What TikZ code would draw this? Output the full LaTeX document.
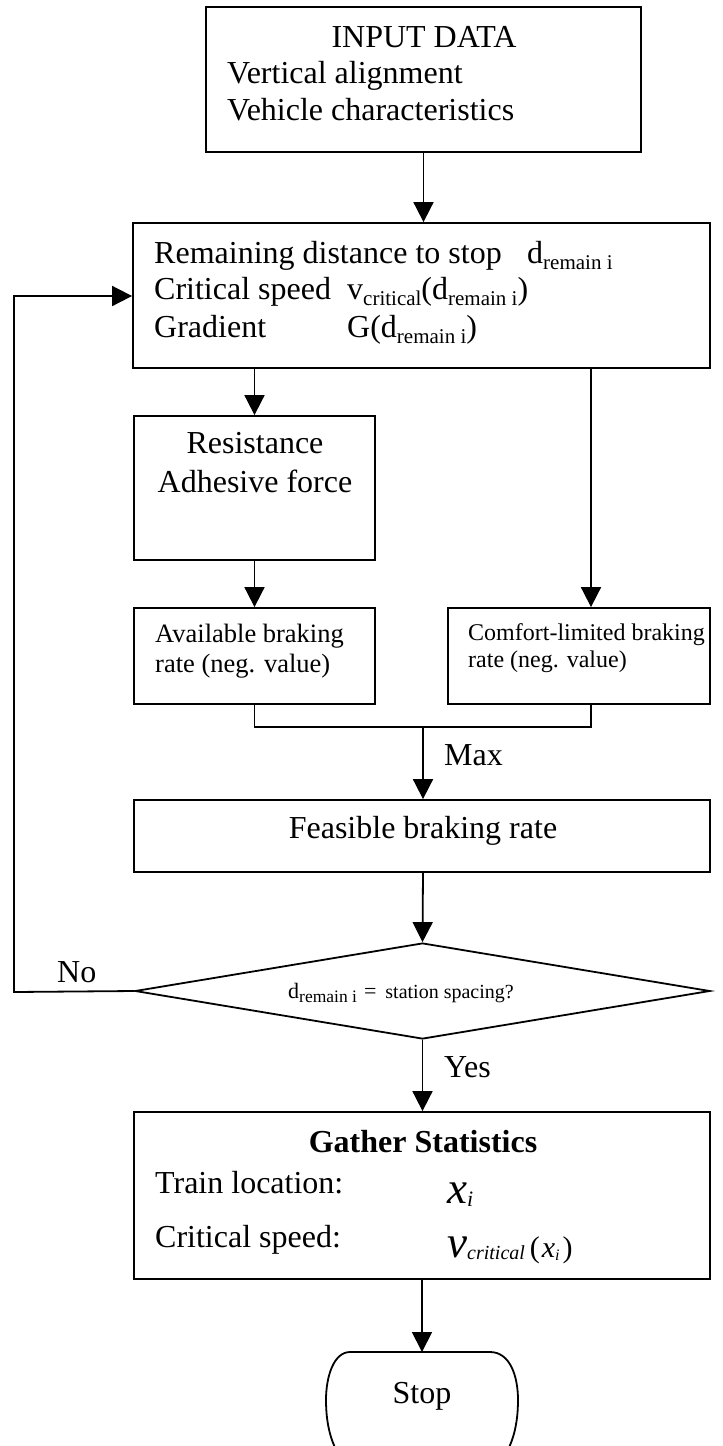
\documentclass[tikz,border=0pt]{standalone}
\usepackage{fontspec}
\setmainfont{Liberation Serif}
\usetikzlibrary{arrows.meta,shapes.geometric,calc}
\newcommand\fs[1]{\fontsize{#1pt}{#1pt}\selectfont}
\newcommand\lsub[3]{\raisebox{-#1pt}{\fontsize{#2pt}{#2pt}\selectfont #3}}
\begin{document}
\begin{tikzpicture}[x=1pt,y=-1pt,
  bx/.style={draw,line width=1.8pt,rectangle,inner sep=0pt},
  ln/.style={line width=1.8pt},
  arr/.style={line width=1.8pt,-{Triangle[length=20pt,width=20pt]}},
  tx/.style={inner sep=0pt,anchor=base west},
  tc/.style={inner sep=0pt,anchor=base}]
\useasboundingbox (0,0) rectangle (723,1446);
\fill[white] (0,0) rectangle (723,1446);
\clip (0,0) rectangle (723,1446);

% boxes
\node[bx,minimum width=435pt,minimum height=145pt] (input) at (423.5,79.5) {};
\node[bx,minimum width=577pt,minimum height=145pt] (remain) at (421.5,295.5) {};
\node[bx,minimum width=241pt,minimum height=144pt] (resist) at (254.5,488) {};
\node[bx,minimum width=241pt,minimum height=96pt] (avail) at (254.5,656) {};
\node[bx,minimum width=262pt,minimum height=96pt] (comfort) at (579,656) {};
\node[bx,minimum width=576pt,minimum height=72pt] (feas) at (422,836) {};
\node[draw,line width=1.8pt,diamond,inner sep=0pt,minimum width=575pt,minimum height=96pt] (dec) at (422.5,991) {};
\node[bx,minimum width=576pt,minimum height=167pt] (gather) at (422,1195.5) {};

% stop terminal
\coordinate (stoptop) at (422,1352);
\draw[ln] (350,1352) -- (490,1352)
  .. controls (510,1352) and (518,1376) .. (518,1400)
  .. controls (518,1424) and (513,1446) .. (500,1462)
  -- (344,1462)
  .. controls (331,1446) and (326,1424) .. (326,1400)
  .. controls (326,1376) and (334,1352) .. (350,1352) -- cycle;
\node[tc] (stop) at (422,1403) {\fs{32}Stop};

% texts: input
\node[tc] (in1) at (424,47) {\fs{32}INPUT DATA};
\node[tx] (in2) at (227,83) {\fs{32}Vertical alignment};
\node[tx] (in3) at (227,120) {\fs{32}Vehicle characteristics};

% texts: remaining
\node[tx] (r1) at (154,263) {\fs{32}Remaining distance to stop};
\node[tx] (r1b) at (527,263) {\fs{32}d\lsub{6}{21}{remain i}};
\node[tx] (r2) at (154,299) {\fs{32}Critical speed};
\node[tx] (r2b) at (347,299) {\fs{32}v\lsub{6}{21}{critical}(d\lsub{6}{21}{remain i})};
\node[tx] (r3) at (154,337) {\fs{32}Gradient};
\node[tx] (r3b) at (347,337) {\fs{32}G(d\lsub{6}{21}{remain i})};

% resistance
\node[tc] (rs1) at (255,453) {\fs{32}Resistance};
\node[tc] (rs2) at (255,492) {\fs{32}Adhesive force};

% available / comfort
\node[tx] (a1) at (155,642) {\fs{26.5}Available braking};
\node[tx] (a2) at (155,672) {\fs{26.5}rate (neg. value)};
\node[tx] (c1) at (468,640) {\fs{24}Comfort-limited braking};
\node[tx] (c2) at (468,667) {\fs{24}rate (neg. value)};

% feasible
\node[tc] (f1) at (423,838) {\fs{32}Feasible braking rate};
\node[tx] (maxl) at (444,765) {\fs{32}Max};

% decision
\node[tx] (dtxt) at (288,998) {\fs{22}d\lsub{4}{17.5}{remain i}\hspace{7pt}=\hspace{9pt}\fs{20}station spacing?};
\node[tx] (nol) at (57,982) {\fs{32}No};
\node[tx] (yesl) at (444,1077) {\fs{32}Yes};

% gather
\node[tc] (g1) at (423,1152) {\fs{32}\bfseries Gather Statistics};
\node[tx] (g2) at (155,1193) {\fs{32}Train location:};
\node[tx] (g2b) at (447,1203) {\fs{45}\itshape x\lsub{3}{22}{i}};
\node[tx] (g3) at (155,1247) {\fs{32}Critical speed:};
\node[tx] (g3b) at (447,1257) {\fs{45}\itshape v\lsub{2}{20}{critical}\hspace{5pt}\fs{30}\upshape(\hspace{2pt}\itshape x\lsub{3}{16}{i}\hspace{3pt}\upshape)};

% connectors
\coordinate (cx) at (591,0);
\coordinate (mj) at (423,727);
\coordinate (lb) at (14,992);
\coordinate (lt) at (14,296);

\draw[arr] (input.south) -- (input.south |- remain.north);
\draw[arr] (resist.north |- remain.south) -- (resist.north);
\draw[arr] (resist.south) -- (avail.north);
\draw[arr] (remain.south -| cx) -- (comfort.north -| cx);
\draw[ln] (avail.south) |- (mj) -| (comfort.south -| cx);
\draw[arr] (mj) -- (mj |- feas.north);
\draw[arr] (feas.south -| mj) -- (dec.north);
\draw[arr] (dec.south) -- (dec.south |- gather.north);
\draw[arr] (dec.west) -- (lb) -- (lt) -- (remain.west |- lt);
\draw[arr] (gather.south) -- (gather.south |- stoptop);
\end{tikzpicture}
\end{document}
